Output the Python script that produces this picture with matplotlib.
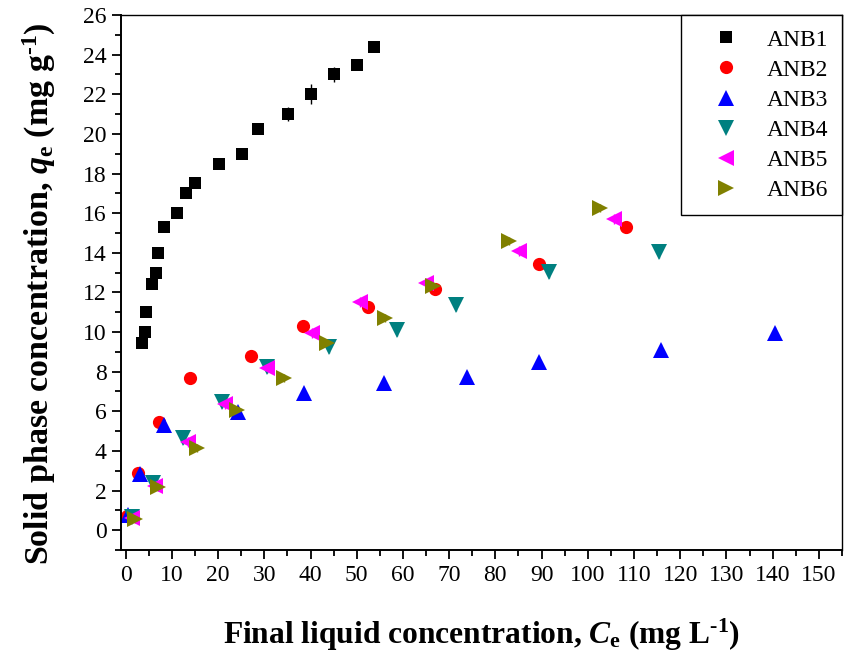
"""Adsorption isotherms of the six ANB samples (qe vs Ce)."""

import matplotlib

matplotlib.use("Agg")
import matplotlib.pyplot as plt
from matplotlib.ticker import MultipleLocator

plt.rcParams["font.family"] = ["Liberation Serif", "DejaVu Serif"]
plt.rcParams["mathtext.fontset"] = "custom"
plt.rcParams["mathtext.rm"] = "Liberation Serif:bold"
plt.rcParams["mathtext.it"] = "Liberation Serif:bold:italic"
plt.rcParams["mathtext.bf"] = "Liberation Serif:bold"

# final liquid concentration Ce (mg/L) and solid phase concentration qe (mg/g)
anb1_ce = [3.5, 4.1, 4.5, 5.7, 6.5, 7.1, 8.3, 11.1, 13.1, 15.0, 20.1, 25.1,
           28.6, 35.1, 40.0, 45.1, 50.0, 53.8]
anb1_qe = [9.45, 10.0, 11.0, 12.4, 13.0, 14.0, 15.3, 16.0, 17.0, 17.5, 18.5,
           19.0, 20.25, 21.0, 22.0, 23.0, 23.5, 24.4]
anb1_err = [0.1, 0.1, 0.1, 0.1, 0.1, 0.1, 0.1, 0.1, 0.1, 0.1, 0.1, 0.1,
            0.15, 0.35, 0.5, 0.37, 0.1, 0.1]

anb2_ce = [0.4, 2.6, 7.3, 14.0, 27.1, 38.3, 52.4, 67.0, 89.5, 108.3]
anb2_qe = [0.71, 2.91, 5.44, 7.66, 8.80, 10.3, 11.28, 12.16, 13.42, 15.29]
anb2_err = [0.1, 0.1, 0.1, 0.1, 0.1, 0.1, 0.1, 0.1, 0.1, 0.1]

anb3_ce = [0.6, 3.1, 8.2, 24.4, 38.6, 55.8, 73.8, 89.4, 115.9, 140.6]
anb3_qe = [0.79, 2.86, 5.30, 5.97, 6.90, 7.41, 7.71, 8.47, 9.09, 9.97]
anb3_err = [0.25, 0.3, 0.3, 0.3, 0.3, 0.3, 0.3, 0.3, 0.3, 0.3]

anb4_ce = [1.3, 5.9, 12.4, 20.8, 30.6, 43.9, 58.7, 71.5, 91.5, 115.5]
anb4_qe = [0.67, 2.36, 4.63, 6.48, 8.25, 9.26, 10.1, 11.36, 13.05, 14.06]
anb4_err = [0.25, 0.3, 0.3, 0.3, 0.3, 0.3, 0.3, 0.3, 0.3, 0.3]

anb5_ce = [1.3, 6.4, 13.4, 21.5, 30.6, 40.3, 50.8, 65.0, 85.2, 105.6]
anb5_qe = [0.59, 2.22, 4.46, 6.36, 8.17, 9.93, 11.53, 12.49, 14.09, 15.71]
anb5_err = [0.25, 0.25, 0.25, 0.25, 0.25, 0.25, 0.25, 0.25, 0.25, 0.25]

anb6_ce = [2.1, 7.1, 15.4, 24.1, 34.2, 43.5, 56.2, 66.6, 82.9, 102.7]
anb6_qe = [0.54, 2.19, 4.16, 6.06, 7.66, 9.43, 10.72, 12.32, 14.61, 16.28]
anb6_err = [0.2, 0.2, 0.2, 0.2, 0.2, 0.2, 0.2, 0.2, 0.2, 0.2]

SERIES = [
    ("ANB1", anb1_ce, anb1_qe, anb1_err, "s", "#000000", 8.5),
    ("ANB2", anb2_ce, anb2_qe, anb2_err, "o", "#ff0000", 9.5),
    ("ANB3", anb3_ce, anb3_qe, anb3_err, "^", "#0000ff", 11),
    ("ANB4", anb4_ce, anb4_qe, anb4_err, "v", "#008080", 11),
    ("ANB5", anb5_ce, anb5_qe, anb5_err, "<", "#ff00ff", 11),
    ("ANB6", anb6_ce, anb6_qe, anb6_err, ">", "#808000", 11),
]


def main() -> None:
    fig = plt.figure(figsize=(8.44, 6.62), dpi=100)
    ax = fig.add_axes([0.1434, 0.1692, 0.8542, 0.8081])

    for label, ce, qe, err, marker, color, size in SERIES:
        ax.errorbar(
            ce,
            qe,
            yerr=err,
            fmt=marker,
            color=color,
            ecolor=color,
            markersize=size,
            markeredgewidth=0,
            elinewidth=1.0,
            capsize=4,
            capthick=1.0,
            label=label,
        )

    ax.set_xlim(-1, 155)
    ax.set_ylim(-1, 26)
    ax.xaxis.set_major_locator(MultipleLocator(10))
    ax.xaxis.set_minor_locator(MultipleLocator(5))
    ax.yaxis.set_major_locator(MultipleLocator(2))
    ax.yaxis.set_minor_locator(MultipleLocator(1))
    ax.set_xticks(range(0, 151, 10))
    ax.set_yticks(range(0, 27, 2))
    ax.tick_params(which="both", direction="out", top=False, right=False,
                   width=1.3, labelsize=17)
    ax.tick_params(which="major", length=6.5, pad=4)
    ax.tick_params(which="minor", length=4)
    for spine in ax.spines.values():
        spine.set_linewidth(1.0)
    for side in ("left", "bottom"):
        ax.spines[side].set_linewidth(1.4)

    ax.set_xlabel(r"Final liquid concentration, $\mathit{C}_{\mathbf{e}}$ (mg L$^{\text{-1}}$)",
                  fontsize=22.7, fontweight="bold")
    ax.set_ylabel(r"Solid phase concentration, $\mathit{q}_{\mathbf{e}}$ (mg g$^{\text{-1}}$)",
                  fontsize=24.5, fontweight="bold")
    ax.xaxis.set_label_coords(0.5, -0.125)
    ax.yaxis.set_label_coords(-0.087, 0.48)

    handles, labels = ax.get_legend_handles_labels()
    handles = [h[0] for h in handles]
    legend = ax.legend(
        handles,
        labels,
        loc="upper right",
        borderaxespad=0,
        fontsize=17,
        frameon=True,
        fancybox=False,
        edgecolor="black",
        framealpha=1,
        borderpad=0.6,
        handlelength=2.6,
        handletextpad=0.4,
        labelspacing=0.36,
        numpoints=1,
    )
    legend.get_frame().set_linewidth(1.0)

    fig.savefig("out.png", dpi=100)
    plt.close(fig)


if __name__ == "__main__":
    main()
